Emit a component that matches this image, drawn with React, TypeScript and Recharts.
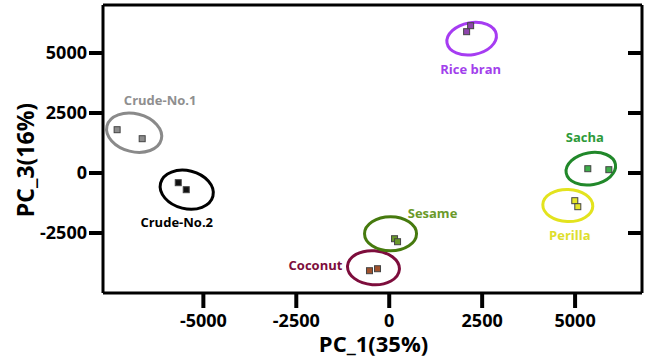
import React from "react";
import { ScatterChart, Scatter, XAxis, YAxis, Label } from "recharts";

// groups, two samples each
const groups = ["Crude-No.1", "Crude-No.2", "Coconut", "Sesame", "Rice bran", "Sacha", "Perilla"];
const pc1 = [
  [-7320, -6646],
  [-5676, -5461],
  [-531, -315],
  [143, 224],
  [2082, 2190],
  [5342, 5908],
  [4992, 5073],
];
const pc3 = [
  [1804, 1429],
  [-404, -696],
  [-4071, -3988],
  [-2738, -2863],
  [5888, 6138],
  [179, 138],
  [-1154, -1404],
];
// ellipse centres per group
const ellX = [-6862, -5447, -424, 35, 2217, 5423, 4804];
const ellY = [1679, -696, -3946, -2529, 5596, 179, -1354];

const xTicks = [-5000, -2500, 0, 2500, 5000];
const yTicks = [-2500, 0, 2500, 5000];

// visual styles per group
const styles: Record<string, any> = {
  "Crude-No.1": { ring: "#8a8a8a", text: "#8f8f8f", fill: "#8c8c8c", rx: 28, ry: 19, rot: 14, dx: 26, dy: -33 },
  "Crude-No.2": { ring: "#000000", text: "#000000", fill: "#111111", rx: 27, ry: 19, rot: 14, dx: -10, dy: 32 },
  Coconut: { ring: "#7d0d3c", text: "#7d0d3c", fill: "#a0522d", rx: 26, ry: 17, rot: 4, dx: -58, dy: -3 },
  Sesame: { ring: "#467a0e", text: "#6b9a2a", fill: "#6a9a2a", rx: 26, ry: 17, rot: 0, dx: 42, dy: -21 },
  "Rice bran": { ring: "#a63cf2", text: "#a23fec", fill: "#8e44ad", rx: 25, ry: 16, rot: -10, dx: -1, dy: 30 },
  Sacha: { ring: "#21882a", text: "#2e9a3a", fill: "#3dae49", rx: 25, ry: 16, rot: -10, dx: -6, dy: -32 },
  Perilla: { ring: "#e3e31e", text: "#dede2c", fill: "#e6e628", rx: 25, ry: 16, rot: 2, dx: 2, dy: 30 },
};

const FONT = "'Open Sans', 'Liberation Sans', sans-serif";

const ellipseData = groups.map((g, i) => ({ x: ellX[i], y: ellY[i], name: g }));
const pointData = groups.map((g, i) =>
  pc1[i].map((x, j) => ({ x, y: pc3[i][j], name: g }))
);

const Ring = (props: any) => {
  const { cx, cy, payload } = props;
  const s = styles[payload.name];
  return (
    <g>
      <ellipse
        cx={cx}
        cy={cy}
        rx={s.rx}
        ry={s.ry}
        fill="none"
        stroke={s.ring}
        strokeWidth={3}
        transform={`rotate(${s.rot} ${cx} ${cy})`}
      />
      <text
        x={cx + s.dx}
        y={cy + s.dy}
        textAnchor="middle"
        dominantBaseline="central"
        fill={s.text}
        fontSize={13}
        fontWeight={700}
        fontFamily={FONT}
      >
        {payload.name}
      </text>
    </g>
  );
};

const Square = (props: any) => {
  const { cx, cy, payload } = props;
  const s = styles[payload.name];
  return <rect x={cx - 3} y={cy - 3} width={6} height={6} fill={s.fill} stroke="#444" strokeWidth={1} />;
};

const tickStyle = { fill: "#000", fontSize: 18, fontWeight: 700, fontFamily: FONT };
const lineStyle = { stroke: "#000", strokeWidth: 3 };
const tickLine = { stroke: "#000", strokeWidth: 4 };

export default function App() {
  return (
    <div style={{ position: "absolute", left: 0, top: 0, width: 651, height: 358, background: "#fff" }}>
      <ScatterChart width={651} height={358} margin={{ top: 5, right: 9, bottom: 0, left: 0 }}>
        <XAxis
          xAxisId="b"
          type="number"
          dataKey="x"
          domain={[-7700, 6800]}
          ticks={xTicks}
          allowDataOverflow
          height={65}
          tickSize={15}
          tickMargin={6}
          axisLine={lineStyle}
          tickLine={tickLine}
          tick={tickStyle}
        >
          <Label
            content={(p: any) => {
              const vb = p.viewBox || { x: 103, y: 293, width: 539, height: 65 };
              return (
                <text
                  x={vb.x + vb.width / 2 + 1}
                  y={vb.y + 50}
                  textAnchor="middle"
                  dominantBaseline="central"
                  fontSize={22}
                  fontWeight={700}
                  fontFamily={FONT}
                  fill="#000"
                >
                  PC_1(35%)
                </text>
              );
            }}
          />
        </XAxis>
        <XAxis
          xAxisId="t"
          orientation="top"
          mirror
          type="number"
          domain={[-7700, 6800]}
          ticks={xTicks}
          allowDataOverflow
          tickSize={13}
          tickFormatter={() => ""}
          axisLine={lineStyle}
          tickLine={tickLine}
        />
        <YAxis
          yAxisId="l"
          type="number"
          dataKey="y"
          domain={[-5000, 7000]}
          ticks={yTicks}
          allowDataOverflow
          width={103}
          tickSize={14}
          tickMargin={2}
          axisLine={lineStyle}
          tickLine={tickLine}
          tick={tickStyle}
        >
          <Label
            content={(p: any) => {
              const vb = p.viewBox || { x: 0, y: 5, width: 103, height: 288 };
              const x = vb.x + 25;
              const y = vb.y + vb.height / 2 + 11;
              return (
                <text
                  x={x}
                  y={y}
                  transform={`rotate(-90 ${x} ${y})`}
                  textAnchor="middle"
                  dominantBaseline="central"
                  fontSize={23}
                  fontWeight={700}
                  fontFamily={FONT}
                  fill="#000"
                >
                  PC_3(16%)
                </text>
              );
            }}
          />
        </YAxis>
        <YAxis
          yAxisId="r"
          orientation="right"
          mirror
          type="number"
          domain={[-5000, 7000]}
          ticks={yTicks}
          allowDataOverflow
          tickSize={14}
          tickFormatter={() => ""}
          axisLine={lineStyle}
          tickLine={tickLine}
        />
        <Scatter
          xAxisId="b"
          yAxisId="l"
          data={ellipseData}
          shape={Ring}
          isAnimationActive={false}
        />
        {pointData.map((d, i) => (
          <Scatter
            key={groups[i]}
            xAxisId="b"
            yAxisId="l"
            data={d}
            shape={Square}
            isAnimationActive={false}
          />
        ))}
      </ScatterChart>
    </div>
  );
}
